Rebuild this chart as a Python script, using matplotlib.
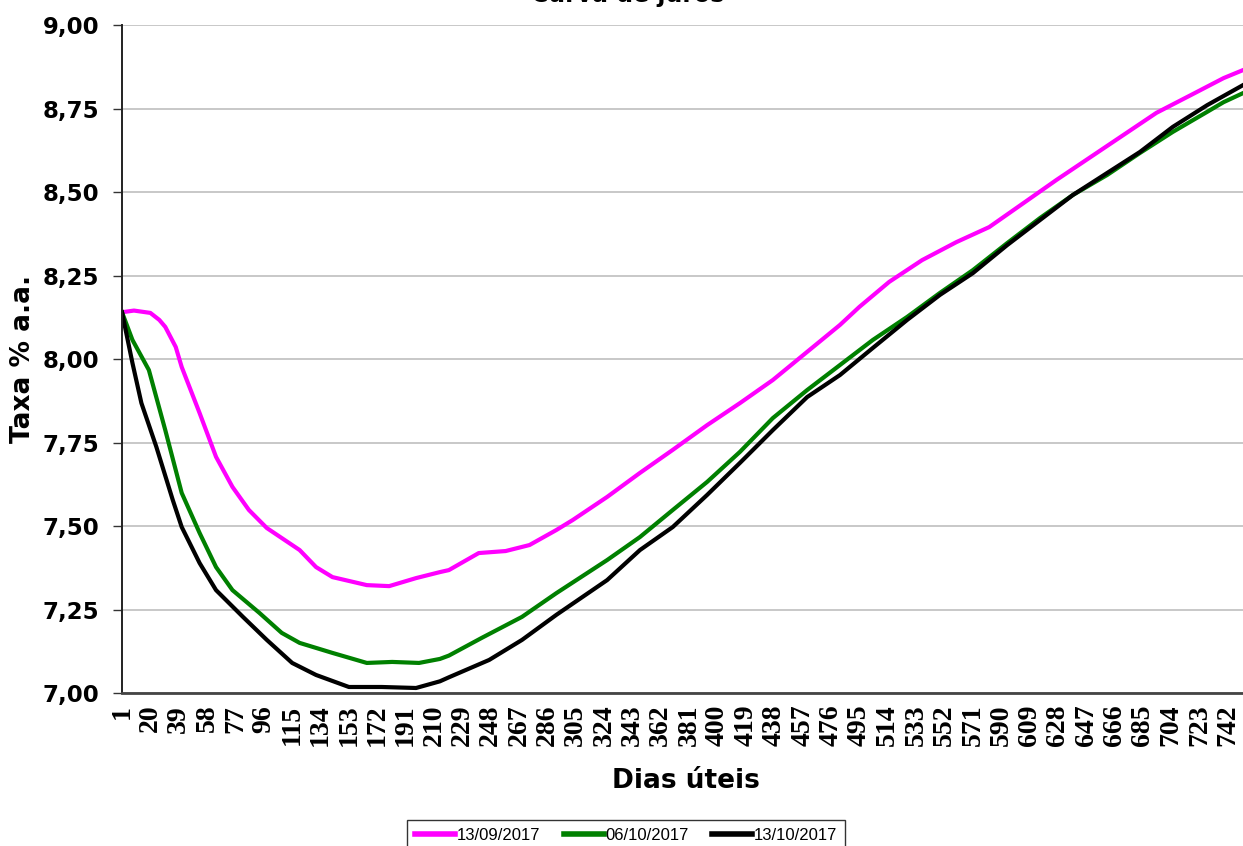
import matplotlib
matplotlib.use("Agg")
import matplotlib.pyplot as plt
import numpy as np

# dias úteis / taxa % a.a.
dias_set = [1, 9, 20, 26, 30, 37, 41, 53, 64, 75, 86, 98, 120, 131, 142, 165, 180, 198,
            214, 220, 240, 258, 274, 292, 303, 326, 348, 370, 393, 415, 437, 482, 495,
            515, 537, 560, 582, 605, 627, 650, 672, 694, 717, 739, 752]
taxa_set = [8.14, 8.145, 8.138, 8.117, 8.096, 8.036, 7.976, 7.838, 7.707, 7.617, 7.548,
            7.494, 7.428, 7.377, 7.347, 7.323, 7.320, 7.344, 7.362, 7.368, 7.419, 7.425,
            7.443, 7.488, 7.518, 7.587, 7.659, 7.728, 7.802, 7.868, 7.937, 8.102, 8.156,
            8.231, 8.296, 8.350, 8.395, 8.467, 8.536, 8.605, 8.671, 8.737, 8.790, 8.841,
            8.865]

dias_out6 = [1, 8, 19, 30, 41, 53, 64, 75, 93, 108, 120, 142, 165, 182, 200, 214, 220,
             242, 269, 292, 326, 348, 370, 393, 415, 437, 460, 482, 504, 527, 549, 571,
             594, 616, 638, 661, 683, 705, 728, 739, 752]
taxa_out6 = [8.14, 8.057, 7.967, 7.787, 7.599, 7.479, 7.377, 7.308, 7.240, 7.180, 7.150,
             7.120, 7.090, 7.093, 7.090, 7.102, 7.112, 7.165, 7.228, 7.299, 7.398, 7.467,
             7.548, 7.632, 7.722, 7.823, 7.907, 7.982, 8.057, 8.126, 8.198, 8.266, 8.347,
             8.422, 8.491, 8.551, 8.617, 8.680, 8.740, 8.769, 8.796]

dias_out13 = [1, 8, 14, 24, 35, 41, 53, 64, 82, 98, 115, 131, 153, 175, 198, 214, 220,
              247, 269, 292, 326, 348, 370, 393, 415, 437, 460, 482, 504, 527, 549, 571,
              594, 616, 638, 661, 683, 705, 728, 752]
taxa_out13 = [8.14, 7.988, 7.868, 7.737, 7.578, 7.497, 7.389, 7.308, 7.228, 7.159, 7.090,
              7.054, 7.018, 7.018, 7.015, 7.035, 7.047, 7.099, 7.159, 7.234, 7.338, 7.428,
              7.497, 7.593, 7.689, 7.787, 7.886, 7.952, 8.033, 8.117, 8.192, 8.257, 8.341,
              8.416, 8.491, 8.557, 8.620, 8.695, 8.760, 8.820]

x_ticks = list(range(1, 743, 19))
y_ticks = [7.00, 7.25, 7.50, 7.75, 8.00, 8.25, 8.50, 8.75, 9.00]

fig = plt.figure(figsize=(12.43, 8.46), dpi=100)
ax = fig.add_axes([122 / 1243, 1 - 693 / 846, 1 - 122 / 1243, 668 / 846])

ax.plot(dias_set, taxa_set, color="#ff00ff", lw=3, label="13/09/2017")
ax.plot(dias_out6, taxa_out6, color="#008000", lw=3, label="06/10/2017")
ax.plot(dias_out13, taxa_out13, color="black", lw=3, label="13/10/2017")

ax.set_xlim(1, 752)
ax.set_ylim(7.0, 9.0)
ax.set_yticks(y_ticks)
ax.set_yticklabels([f"{v:.2f}".replace(".", ",") for v in y_ticks],
                   fontsize=16.5, fontweight="bold", family="DejaVu Sans")
ax.set_xticks(x_ticks)
ax.set_xticklabels([str(v) for v in x_ticks], rotation=90, fontsize=20,
                   fontweight="bold", family="Liberation Serif")
ax.tick_params(axis="y", length=6.5, width=1, pad=10, color="#333333")
ax.tick_params(axis="x", length=0, pad=8.5)

ax.grid(axis="y", color="#c4c4c4", lw=1.3)
ax.set_axisbelow(True)
for s in ["top", "right"]:
    ax.spines[s].set_visible(False)
ax.spines["left"].set_color("#222222")
ax.spines["left"].set_linewidth(1.4)
ax.spines["bottom"].set_color("#444444")
ax.spines["bottom"].set_linewidth(2)

ax.set_ylabel("Taxa % a.a.", fontsize=19, fontweight="bold")
ax.yaxis.set_label_coords(-0.077, 0.5)
ax.set_xlabel("Dias úteis", fontsize=19, fontweight="bold")
ax.xaxis.set_label_coords(0.503, -0.113)

# title is partly outside the picture in the reference
fig.text(0.505, 1 - 2 / 846, "Curva de juros", fontsize=17, fontweight="bold",
         ha="center", va="baseline")

leg = ax.legend(loc="upper center", bbox_to_anchor=(626 / 1243, 1 - 820 / 846),
                bbox_transform=fig.transFigure, ncol=3, frameon=True, fancybox=False,
                prop={"family": "Liberation Sans", "size": 12}, handlelength=2.4,
                handletextpad=0.1, columnspacing=1.4, borderpad=0.5, borderaxespad=0)
leg.get_frame().set_edgecolor("black")
leg.get_frame().set_linewidth(1)
for h in leg.get_lines():
    h.set_linewidth(4)

fig.savefig("out.png", dpi=100)
